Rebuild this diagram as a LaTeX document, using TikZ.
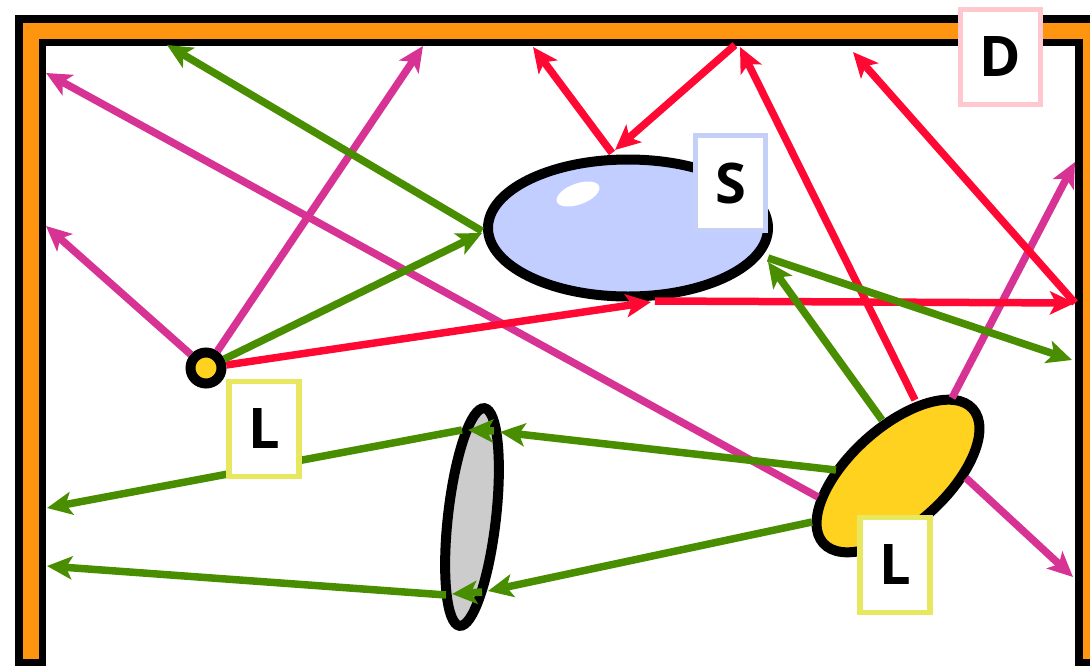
\documentclass[tikz,border=0pt]{standalone}
\usepackage{fontspec}
\setmainfont{Open Sans}
\usetikzlibrary{arrows.meta,shapes.geometric}
\definecolor{frameorange}{RGB}{255,148,16}
\definecolor{raypink}{RGB}{214,51,148}
\definecolor{rayred}{RGB}{255,8,51}
\definecolor{raygreen}{RGB}{72,142,0}
\definecolor{sphereblue}{RGB}{194,206,255}
\definecolor{lampyellow}{RGB}{255,210,32}
\definecolor{lensgray}{RGB}{204,204,204}
\definecolor{tagyellow}{RGB}{232,232,96}
\definecolor{tagblue}{RGB}{196,208,248}
\definecolor{tagpink}{RGB}{255,200,207}
\begin{document}
\begin{tikzpicture}[x=1pt,y=1pt,
  ray/.style={line width=7.5pt,-{Stealth[length=25pt,width=23pt,inset=6pt]}},
  pinkray/.style={ray,draw=raypink,color=raypink},
  redray/.style={ray,draw=rayred,color=rayred},
  greenray/.style={ray,draw=raygreen,color=raygreen},
  body/.style={draw=black,line width=10pt,inner sep=0pt},
  tagbox/.style={draw,fill=white,line width=5.5pt,minimum width=70pt,minimum height=95pt,
    inner sep=0pt,text=black,font=\fontsize{56}{56}\selectfont\bfseries}
]
\clip (0,0) rectangle (1090,-667);
\useasboundingbox (0,0) rectangle (1090,-667);

% room walls
\draw[line width=31pt,black,line join=miter] (30.5,-666) -- (30.5,-30.5) -- (1090.5,-30.5) -- (1090.5,-666);
\draw[line width=16pt,frameorange,line join=miter] (30.5,-659) -- (30.5,-30.5) -- (1090.5,-30.5) -- (1090.5,-659);

% objects
\node[body,ellipse,fill=sphereblue,minimum width=280pt,minimum height=137pt] (S) at (628,-228) {};
\node[ellipse,fill=white,minimum width=45pt,minimum height=21pt,inner sep=0pt,rotate=20] (hl) at (578,-194) {};
\node[body,ellipse,fill=lensgray,minimum width=48pt,minimum height=219pt,rotate=-6.5] (lens) at (472,-517) {};
\node[body,ellipse,fill=lampyellow,minimum width=201pt,minimum height=97pt,rotate=42] (L2) at (898,-476) {};
\node[body,circle,fill=lampyellow,minimum size=31pt] (L1) at (206,-368) {};

% ray end points
\coordinate (wm1) at (423,-46);
\coordinate (wm2) at (46,-226);
\coordinate (wm3) at (46,-73);
\coordinate (wm4) at (1075,-162);
\coordinate (wm5) at (1073,-577);
\coordinate (pm3) at (818,-497);
\coordinate (pm4) at (952,-398);
\coordinate (pm5) at (966,-478);

\coordinate (sb1) at (651,-302);
\coordinate (sb2) at (655,-301);
\coordinate (wr2) at (1075,-303);
\coordinate (wr3) at (853,-52);
\coordinate (pr4) at (915,-400);
\coordinate (wr4) at (740,-47);
\coordinate (wr5) at (735,-45);
\coordinate (st1) at (615,-150);
\coordinate (st2) at (612,-153);
\coordinate (wr6) at (533,-47);

\coordinate (sl1) at (482,-233);
\coordinate (sl2) at (482,-231);
\coordinate (wg2) at (167,-45);
\coordinate (pg3) at (882,-420);
\coordinate (sr1) at (768,-262);
\coordinate (sr2) at (768,-258);
\coordinate (wg4) at (1072,-360);
\coordinate (pg5) at (836,-470);
\coordinate (la1) at (500,-432);
\coordinate (la2) at (494,-431);
\coordinate (la3) at (468,-430);
\coordinate (la4) at (462,-430);
\coordinate (wg7) at (47,-508);
\coordinate (pg8) at (812,-522);
\coordinate (lb1) at (488,-591);
\coordinate (lb2) at (482,-592);
\coordinate (lb3) at (452,-594);
\coordinate (lb4) at (446,-595);
\coordinate (wg10) at (47,-566);

% pink rays
\draw[pinkray] (L1) -- (wm1);
\draw[pinkray] (L1) -- (wm2);
\draw[pinkray] (pm3) -- (wm3);
\draw[pinkray] (pm4) -- (wm4);
\draw[pinkray] (pm5) -- (wm5);

% red rays
\draw[redray] (L1) -- (sb1);
\draw[redray] (sb2) -- (wr2);
\draw[redray] (wr2) -- (wr3);
\draw[redray] (pr4) -- (wr4);
\draw[redray] (wr5) -- (st1);
\draw[redray] (st2) -- (wr6);

% green rays
\draw[greenray] (L1) -- (sl1);
\draw[greenray] (sl2) -- (wg2);
\draw[greenray] (pg3) -- (sr1);
\draw[greenray] (sr2) -- (wg4);
\draw[greenray] (pg5) -- (la1);
\draw[greenray] (la2) -- (la3);
\draw[greenray] (la4) -- (wg7);
\draw[greenray] (pg8) -- (lb1);
\draw[greenray] (lb2) -- (lb3);
\draw[greenray] (lb4) -- (wg10);

% tags
\node[tagbox,draw=tagpink,minimum width=80pt] (tD) at (1000.5,-57) {D};
\node[tagbox,draw=tagblue] (tS) at (730.5,-183) {S};
\node[tagbox,draw=tagyellow] (tL1) at (264,-429) {L};
\node[tagbox,draw=tagyellow] (tL2) at (895,-565) {L};
\end{tikzpicture}
\end{document}
